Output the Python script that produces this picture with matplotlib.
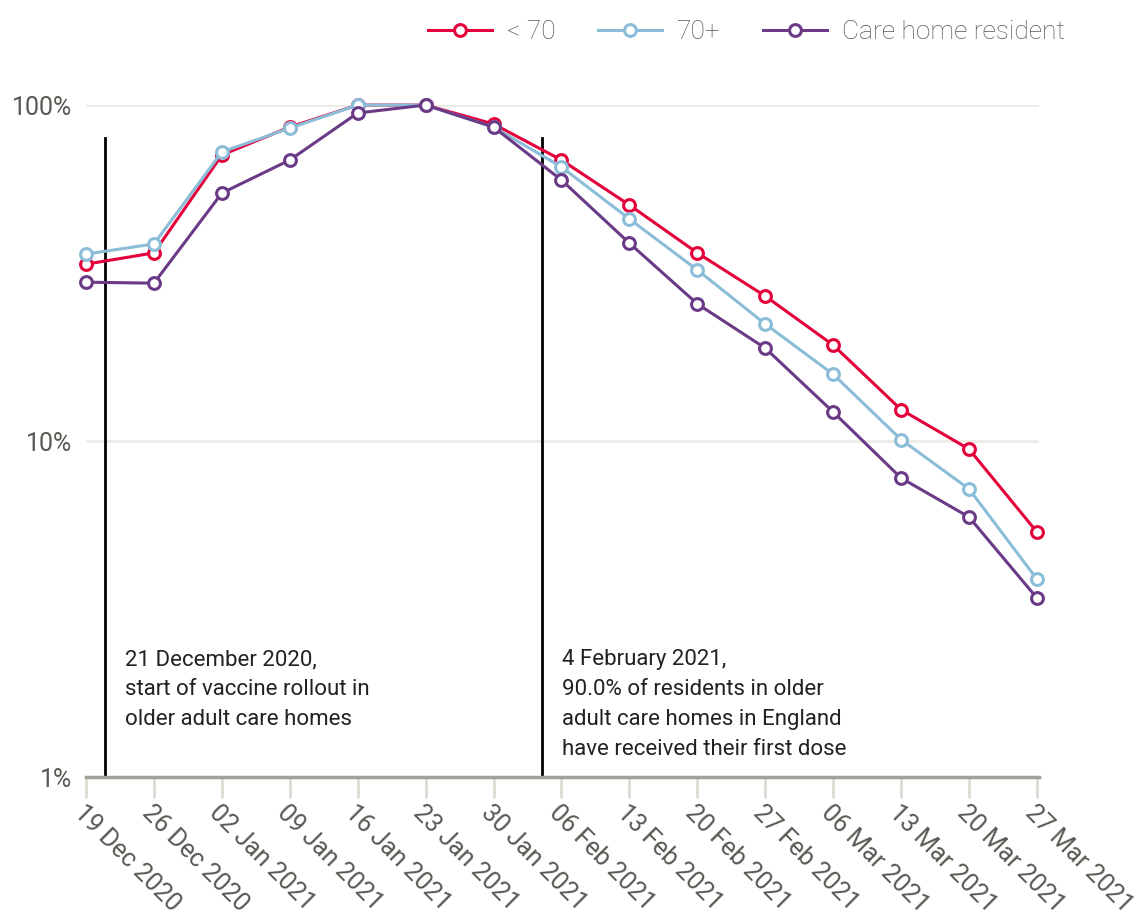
import matplotlib
matplotlib.use("Agg")
import matplotlib.pyplot as plt

# weekly values, % of peak
weeks = ["19 Dec 2020", "26 Dec 2020", "02 Jan 2021", "09 Jan 2021", "16 Jan 2021",
         "23 Jan 2021", "30 Jan 2021", "06 Feb 2021", "13 Feb 2021", "20 Feb 2021",
         "27 Feb 2021", "06 Mar 2021", "13 Mar 2021", "20 Mar 2021", "27 Mar 2021"]
under70 = [33.6, 36.3, 71.0, 86.0, 100, 100, 87.8, 68.6, 50.4, 36.3, 27.0, 19.3, 12.4, 9.46, 5.36]
over70 = [36.0, 38.6, 72.5, 85.4, 100, 100, 86.0, 65.4, 45.8, 32.3, 22.3, 15.8, 10.1, 7.2, 3.88]
carehome = [29.7, 29.5, 54.7, 68.6, 94.7, 100, 86.0, 59.8, 38.8, 25.6, 18.9, 12.2, 7.76, 5.94, 3.41]

# events (in weeks from 19 Dec 2020)
event_pos = [2 / 7, 6 + 5 / 7]
event_text = ["21 December 2020,\nstart of vaccine rollout in\nolder adult care homes",
              "4 February 2021,\n90.0% of residents in older\nadult care homes in England\nhave received their first dose"]

grey = "#5b5752"
plt.rcParams['font.family'] = ['Roboto', 'DejaVu Sans']

fig = plt.figure(figsize=(11.44, 9.15), dpi=100)
ax = fig.add_axes([0.0752, 0.1508, 0.833, 0.7344])

x = list(range(len(weeks)))
series = [("< 70", under70, "#e4003b"), ("70+", over70, "#8bbdd8"),
          ("Care home resident", carehome, "#6b3a87")]
for name, vals, col in series:
    ax.plot(x, vals, color=col, lw=2.2, marker="o", ms=8.5, mfc="white",
            mec=col, mew=2.2, label=name, clip_on=False, zorder=3)

for pos, txt in zip(event_pos, event_text):
    ax.plot([pos, pos], [1, 80], color="black", lw=2, zorder=2)
    ax.text(pos + 0.29, 2.4, txt, fontsize=16, color="#222222",
            va="top", ha="left", linespacing=1.55)

ax.set_yscale("log")
ax.set_ylim(1, 100)
ax.set_xlim(0, 14.03)
ax.set_yticks([1, 10, 100])
ax.set_yticklabels(["1%", "10%", "100%"])
ax.yaxis.set_minor_locator(matplotlib.ticker.NullLocator())
ax.grid(axis="y", color="#ecebe6", lw=2)
ax.set_axisbelow(True)
ax.tick_params(axis="y", length=0, labelsize=18, labelcolor=grey, pad=10)

ax.set_xticks(x)
ax.set_xticklabels(weeks, rotation=-45, ha="left", va="top", rotation_mode="anchor")
ax.tick_params(axis="x", length=15, width=2, color="#deddd5", labelsize=18,
               labelcolor=grey, pad=2)

for s in ["top", "right", "left"]:
    ax.spines[s].set_visible(False)
ax.spines["bottom"].set_color("#a3a09b")
ax.spines["bottom"].set_linewidth(2.5)

leg = fig.legend(loc="upper right", bbox_to_anchor=(0.952, 1.004), ncol=3,
                 frameon=False, fontsize=19, handlelength=2.4, columnspacing=1.6,
                 handletextpad=0.6)
for t in leg.get_texts():
    t.set_color(grey)
    t.set_fontweight("light")

fig.savefig("out.png", dpi=100)
